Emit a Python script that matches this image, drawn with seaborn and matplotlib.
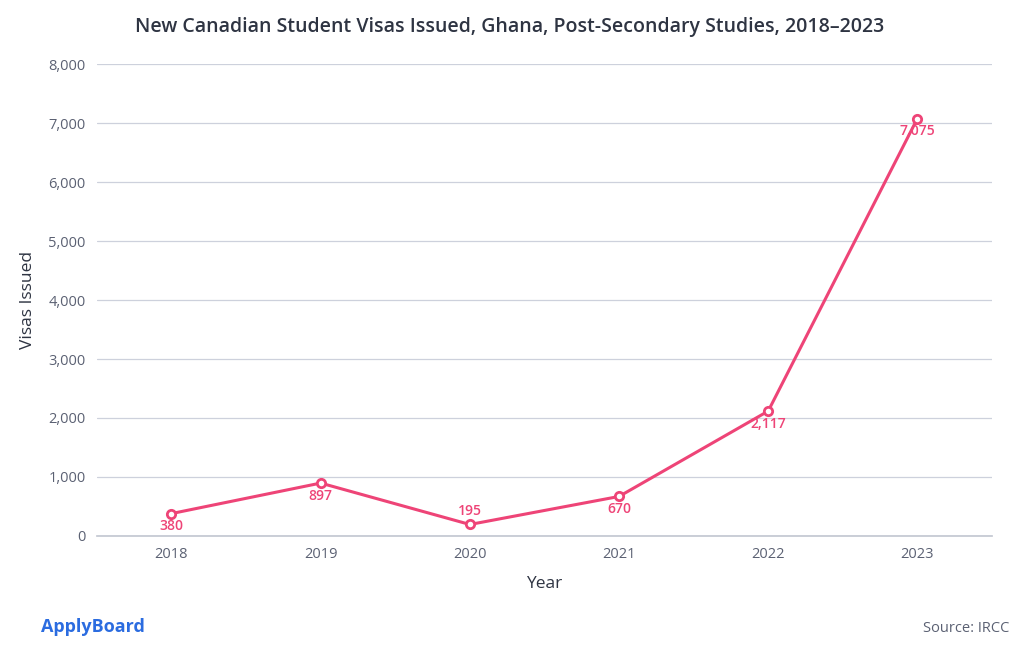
import numpy as np
import pandas as pd
import seaborn as sns
import matplotlib.pyplot as plt

# data
years = [2018, 2019, 2020, 2021, 2022, 2023]
visas = [380, 897, 195, 670, 2117, 7075]
label_above = [False, False, True, False, False, False]

df = pd.DataFrame({'Year': years, 'Visas': visas})

sns.set_theme(style='white')
plt.rcParams['font.family'] = ['Open Sans', 'DejaVu Sans']

line_col = '#EE4477'
grid_col = '#CDD1DC'
text_col = '#5B6173'

fig = plt.figure(figsize=(10.2, 6.5), dpi=100)
ax = fig.add_axes([0.095, 0.1754, 0.8775, 0.7261])

sns.lineplot(data=df, x='Year', y='Visas', ax=ax, color=line_col, linewidth=2.2,
             marker='o', markersize=6, markerfacecolor='white',
             markeredgecolor=line_col, markeredgewidth=2, zorder=3)

for yr, v, up in zip(years, visas, label_above):
    ax.annotate(f'{v:,}', (yr, v), xytext=(0, 5 if up else -4), textcoords='offset points',
                ha='center', va='bottom' if up else 'top', fontsize=10,
                fontweight='semibold', color=line_col, zorder=4)

ax.set_xlim(2017.5, 2023.5)
ax.set_ylim(0, 8000)
ax.set_xticks(years)
ax.set_yticks(np.arange(0, 8001, 1000))
ax.yaxis.set_major_formatter(plt.FuncFormatter(lambda v, p: f'{int(v):,}'))
ax.yaxis.grid(True, color=grid_col, linewidth=0.9)
ax.set_axisbelow(True)
for s in ['left', 'right', 'top']:
    ax.spines[s].set_visible(False)
ax.spines['bottom'].set_color('#C4C8D2')
ax.tick_params(axis='both', colors=text_col, labelsize=10.5, length=0, pad=8)
ax.tick_params(axis='x', pad=8)

ax.set_xlabel('Year', fontsize=12.5, color='#2E3442', labelpad=10)
ax.set_ylabel('Visas Issued', fontsize=12.5, color='#2E3442', labelpad=9)

fig.text(0.5, 0.958, 'New Canadian Student Visas Issued, Ghana, Post-Secondary Studies, 2018\u20132023',
         ha='center', va='center', fontsize=14, fontweight='semibold', color='#2E3442')
fig.text(0.04, 0.036, 'ApplyBoard', ha='left', va='center', fontsize=13,
         fontweight='bold', color='#2B6CE0')
fig.text(0.99, 0.033, 'Source: IRCC', ha='right', va='center', fontsize=10.5, color=text_col)

fig.savefig('out.png', dpi=100)
